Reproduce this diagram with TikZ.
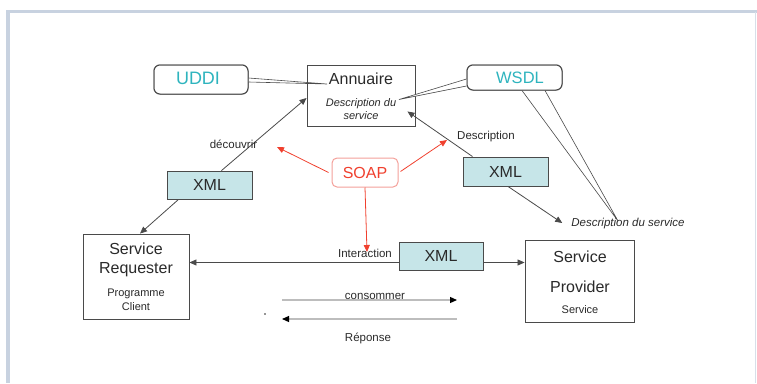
\documentclass[tikz,border=0pt]{standalone}
\usepackage{fontspec}
\setmainfont{Liberation Sans}
\usetikzlibrary{arrows.meta,calc}

\definecolor{framecol}{HTML}{C8D2E0}
\definecolor{xmlfill}{HTML}{C6E5E8}
\definecolor{tealtext}{HTML}{2EB4BE}
\definecolor{soapred}{HTML}{F0402E}
\definecolor{soapline}{HTML}{F4A09A}
\definecolor{boxline}{HTML}{4A4A4A}
\definecolor{textcol}{HTML}{2A2A2A}
\definecolor{greyline}{HTML}{BDBDBD}

\tikzset{
  bigtext/.style={font=\fontsize{16}{19}\selectfont, text=textcol, inner sep=0pt},
  smalltext/.style={font=\fontsize{11.5}{13}\selectfont, text=textcol, inner sep=0pt},
  itext/.style={font=\fontsize{11}{13}\selectfont\itshape, text=textcol, inner sep=0pt},
  plainbox/.style={draw=boxline, line width=0.9pt, fill=white, inner sep=0pt},
  tagbox/.style={draw=boxline, line width=1pt, rounded corners=6pt, fill=white, inner sep=0pt},
  xmlbox/.style={draw=boxline, line width=0.9pt, fill=xmlfill, inner sep=0pt,
                 minimum width=85pt, minimum height=28pt,
                 font=\fontsize{16}{19}\selectfont, text=textcol},
  conn/.style={draw=boxline, line width=0.8pt, -{Triangle[length=7pt,width=6pt]}},
  redconn/.style={draw=soapred, line width=0.8pt, -{Triangle[length=7pt,width=6pt]}},
  greyconn/.style={draw=greyline, line width=1.2pt, -{Triangle[length=7pt,width=6pt,color=black]}},
  wedge/.style={draw=boxline, line width=0.6pt, fill=white},
}

\begin{document}
\begin{tikzpicture}[x=1pt, y=-1pt]
  \useasboundingbox (0,0) rectangle (757,383);

  % window frame
  \fill[framecol] (6,10) rectangle (10,383);
  \fill[framecol] (6,10) rectangle (757,12.5);
  \draw[framecol!70, line width=0.8pt] (755.5,12) -- (755.5,383);

  % main boxes
  \node[plainbox, minimum width=108pt, minimum height=61pt] (ann) at (361,95.5) {};
  \node[plainbox, minimum width=106pt, minimum height=85pt] (req) at (136,276.5) {};
  \node[plainbox, minimum width=109pt, minimum height=82pt] (prov) at (579.5,281) {};

  % tag boxes
  \node[tagbox, minimum width=94pt, minimum height=29pt] (uddi) at (201,79.5) {};
  \node[tagbox, minimum width=95pt, minimum height=25pt] (wsdl) at (514.5,77.5) {};
  \node[draw=soapline, line width=1pt, rounded corners=5pt, fill=white, inner sep=0pt,
        minimum width=66pt, minimum height=29pt] (soap) at (365,172.5) {};

  % callout pointers
  \coordinate (uddiTip) at (327,84);
  \coordinate (wsdlTipA) at (399,99.5);
  \coordinate (wsdlTipB) at (618,221);
  \draw[wedge] ($(uddi.east)+(0,-1.5)$) -- (uddiTip) -- ($(uddi.east)+(0,2.5)$);
  \draw[wedge] ($(wsdl.west)+(0,1.5)$) -- (wsdlTipA) -- ($(wsdl.west)+(0,8.5)$);
  \draw[wedge] ($(wsdl.south)+(7.5,0)$) -- (wsdlTipB) -- ($(wsdl.south)+(30.5,0)$);
  % redraw tag boxes over pointer bases
  \node[tagbox, minimum width=94pt, minimum height=29pt] at (uddi) {};
  \node[tagbox, minimum width=95pt, minimum height=25pt] at (wsdl) {};

  % texts of the tag boxes
  \node[font=\fontsize{18}{21}\selectfont, text=tealtext, inner sep=0pt] at (198,78.5) {UDDI};
  \node[font=\fontsize{16.5}{19}\selectfont, text=tealtext, inner sep=0pt] at (520,78) {WSDL};
  \node[font=\fontsize{16}{19}\selectfont, text=soapred, inner sep=0pt] at (soap) {SOAP};

  % directory box texts
  \node[bigtext] (anntitle) at (361,78.5) {Annuaire};
  \node[itext, align=center] (anndesc) at (361,109) {Description du\\service};

  % requester / provider texts
  \node[bigtext] at (136,249) {Service};
  \node[bigtext] at (136,270) {Requester};
  \node[smalltext, align=center, font=\fontsize{11}{14}\selectfont] at (136,300) {Programme\\Client};
  \node[bigtext] at (580,257) {Service};
  \node[bigtext] at (580,287) {Provider};
  \node[smalltext, font=\fontsize{11}{13}\selectfont] at (580,310) {Service};

  % XML boxes
  \node[xmlbox] (xmlA) at (209.5,185) {XML};
  \node[xmlbox, minimum height=29pt] (xmlB) at (505.5,171.5) {XML};
  \node[xmlbox, minimum width=84pt] (xmlC) at (441,256) {XML};

  % free labels
  \node[itext, font=\fontsize{11.5}{13}\selectfont\itshape] (descsvc) at (628,224) {Description du service};

  % discovery and description connectors
  \draw[conn] ($(xmlA.north)+(12,0)$) -- ($(ann.west)+(0,2.5)$);
  \draw[conn] ($(xmlA.south)+(-31,0)$) -- ($(req.north)+(4,0)$);
  \draw[conn] ($(xmlB.north)+(-33,0)$) -- ($(ann.south east)+(-8,-15)$);
  \draw[conn] ($(xmlB.south)+(2.5,0)$) -- ($(descsvc.west)+(-9,-1)$);

  \node[smalltext] (decouvrir) at (233.5,144) {découvrir};
  \node[smalltext] (descr) at (486,137) {Description};

  % SOAP connectors
  \coordinate (soapTipL) at (277,147);
  \coordinate (soapTipR) at (447,140);
  \draw[redconn] ($(soap.west)+(-3,0)$) -- (soapTipL);
  \draw[redconn] ($(soap.east)+(2,-1)$) -- (soapTipR);

  % interaction line
  \draw[conn] ($(xmlC.west)+(0,6.5)$) -- (req.east |- {$(xmlC.west)+(0,6.5)$});
  \draw[conn] ($(xmlC.east)+(0,6.5)$) -- (prov.west |- {$(xmlC.east)+(0,6.5)$});
  \node[smalltext] (inter) at (365,253) {Interaction};
  \coordinate (soapTipD) at (367,252);
  \draw[redconn] (soap.south) -- (soapTipD);

  % consume / response arrows
  \coordinate (consA) at (282,300);
  \coordinate (consB) at (457,300);
  \coordinate (repA) at (457,319);
  \coordinate (repB) at (282,319);
  \draw[greyconn] (consA) -- (consB);
  \draw[greyconn] (repA) -- (repB);
  \node[smalltext] (consommer) at (375,296) {consommer};
  \node[smalltext] (reponse) at (368,338) {Réponse};
  \fill[textcol] (265,314) circle (0.8pt);
\end{tikzpicture}
\end{document}
